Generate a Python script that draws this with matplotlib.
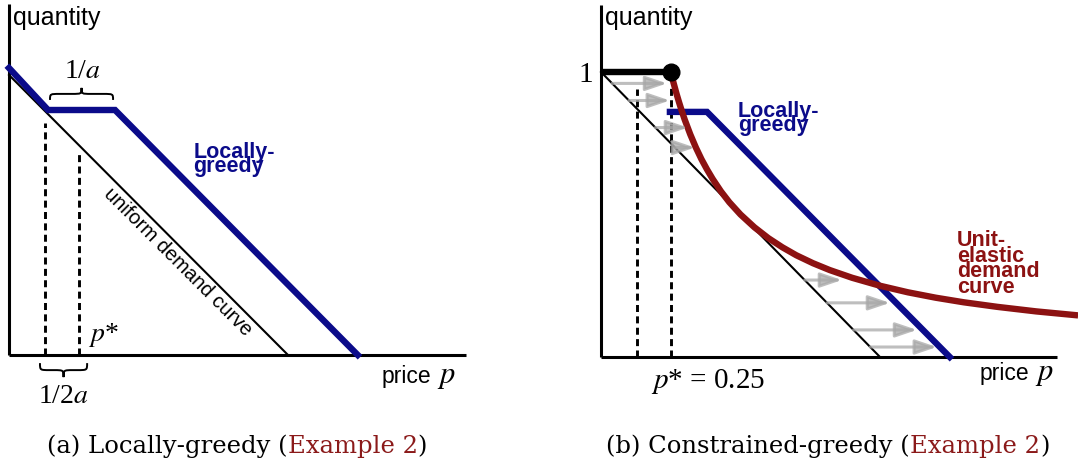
import matplotlib.pyplot as plt
from matplotlib.path import Path
from matplotlib.patches import PathPatch

plt.rcParams['mathtext.fontset'] = 'stix'

# (a) locally-greedy
uniform_p = [0.0, 1.0]
uniform_q = [1.0, 0.0]
greedy_a_p = [0.0, 0.14, 0.38, 1.25]
greedy_a_q = [1.025, 0.875, 0.875, 0.0]
dash_a_p = [0.13, 0.25]
dash_a_top = [0.83, 0.72]

# (b) constrained-greedy
greedy_b_p = [0.247, 0.38, 1.25]
greedy_b_q = [0.86, 0.86, 0.0]
elastic_p = [0.25, 0.26, 0.27, 0.28, 0.29, 0.30, 0.32, 0.34, 0.36, 0.38,
             0.40, 0.43, 0.46, 0.50, 0.55, 0.60, 0.65, 0.70, 0.76, 0.82,
             0.90, 1.00, 1.10, 1.20, 1.30, 1.42, 1.56, 1.71]
elastic_q = [1.000, 0.962, 0.926, 0.893, 0.862, 0.833, 0.781, 0.735, 0.694, 0.658,
             0.625, 0.581, 0.543, 0.500, 0.455, 0.417, 0.385, 0.357, 0.329, 0.305,
             0.278, 0.250, 0.227, 0.208, 0.192, 0.176, 0.160, 0.146]
dash_b_p = [0.13, 0.25]
dash_b_top = [0.94, 0.95]
arrow_q = [0.96, 0.90, 0.805, 0.735, 0.27, 0.19, 0.095, 0.035]
arrow_start_p = [0.04, 0.10, 0.195, 0.265, 0.73, 0.81, 0.905, 0.965]
arrow_end_p = [0.237, 0.247, 0.312, 0.337, 0.864, 1.036, 1.133, 1.204]

BLUE = '#0b0b8a'
RED = '#8c1212'
SANS = 'Liberation Sans'
SERIF = 'Liberation Serif'

fig = plt.figure(figsize=(10.78, 4.68), dpi=100)
axA = fig.add_axes([0, 0, 0.5, 1])
axB = fig.add_axes([0.5, 0, 0.5, 1])
# pixel-matched limits: 279 px per price unit
axA.set_xlim(-9 / 279, 530 / 279)
axA.set_ylim(-113 / 280, 355 / 280)
axB.set_xlim(-62 / 279, 477 / 279)
axB.set_ylim(-111 / 285, 357 / 285)
for ax in (axA, axB):
    ax.axis('off')


def brace(ax, x0, x1, y, h):
    xm = (x0 + x1) / 2
    r = 0.035
    ym = y + h / 2
    verts = [(x0, y), (x0, ym), (x0, ym), (x0 + r, ym),
             (xm - r, ym),
             (xm, ym), (xm, ym), (xm, y + h),
             (xm, ym), (xm, ym), (xm + r, ym),
             (x1 - r, ym),
             (x1, ym), (x1, ym), (x1, y)]
    C, L = Path.CURVE4, Path.LINETO
    codes = [Path.MOVETO, C, C, C, L, C, C, C, C, C, C, L, C, C, C]
    ax.add_patch(PathPatch(Path(verts, codes), fill=False, lw=1.4, color='black'))


dash = dict(color='black', lw=2.1, ls=(0, (2.4, 1.5)))

# ---- panel (a)
axA.plot([0, 0], [0, 1.255], color='black', lw=2.2, solid_capstyle='butt')
axA.plot([0, 1.638], [0, 0], color='black', lw=2.2, solid_capstyle='butt')
axA.plot(uniform_p, uniform_q, color='black', lw=1.5)
axA.plot(greedy_a_p, greedy_a_q, color=BLUE, lw=4.6, solid_joinstyle='miter')
for p, top in zip(dash_a_p, dash_a_top):
    axA.plot([p, p], [0, top], **dash)
brace(axA, 0.147, 0.373, 0.911, 0.043)
brace(axA, 0.111, 0.280, -0.029, -0.05)

axA.text(0.014, 1.179, 'quantity', family=SANS, fontsize=18, va='baseline')
axA.text(0.262, 0.99, r'1/$a$', family=SERIF, fontsize=20, ha='center', va='baseline')
axA.text(0.194, -0.171, r'1/2$a$', family=SERIF, fontsize=20, ha='center', va='baseline')
axA.text(0.283, 0.05, r'$p$*', family=SERIF, fontsize=20, va='baseline')
# va='baseline' on multi-line text anchors the last line
axA.text(0.66, 0.654, 'Locally-\ngreedy', family=SANS, weight='bold', fontsize=15.5,
         color=BLUE, va='baseline', linespacing=0.56)
axA.text(0.606, 0.332, 'uniform demand curve', family=SANS, fontsize=14.5,
         rotation=-45, rotation_mode='anchor', ha='center', va='center')
axA.text(1.337, -0.1, 'price', family=SANS, fontsize=16.5, va='baseline')
axA.text(1.534, -0.1, r'$p$', fontsize=22, va='baseline')

# ---- panel (b)
axB.plot([0, 0], [0, 1.235], color='black', lw=2.2, solid_capstyle='butt')
axB.plot([0, 1.634], [0, 0], color='black', lw=2.2, solid_capstyle='butt')
axB.plot(uniform_p, uniform_q, color='black', lw=1.5)
for p, top in zip(dash_b_p, dash_b_top):
    axB.plot([p, p], [0, top], **dash)
for q, p0, p1 in zip(arrow_q, arrow_start_p, arrow_end_p):
    axB.annotate('', xy=(p1, q), xytext=(p0, q),
                 arrowprops=dict(arrowstyle='-|>,head_length=0.65,head_width=0.22',
                                 color='#a8a8a8', alpha=0.75, lw=2.2,
                                 mutation_scale=20, shrinkA=0, shrinkB=0))
axB.plot(greedy_b_p, greedy_b_q, color=BLUE, lw=4.6, solid_joinstyle='miter')
axB.plot(elastic_p, elastic_q, color=RED, lw=4.6, solid_capstyle='butt')
axB.plot([0, 0.25], [1, 1], color='black', lw=4.6, solid_capstyle='butt')
axB.plot([0.25], [1], 'o', color='black', markersize=12)

axB.text(0.014, 1.165, 'quantity', family=SANS, fontsize=18, va='baseline')
axB.text(-0.029, 0.99, '1', family=SERIF, fontsize=21, ha='right', va='center')
axB.text(0.491, 0.793, 'Locally-\ngreedy', family=SANS, weight='bold', fontsize=15.5,
         color=BLUE, va='baseline', linespacing=0.56)
axB.text(1.276, 0.225, 'Unit-\nelastic\ndemand\ncurve', family=SANS, weight='bold',
         fontsize=15.5, color=RED, va='baseline', linespacing=0.66)
axB.text(0.179, -0.109, r'$p$* = 0.25', family=SERIF, fontsize=21, va='baseline')
axB.text(1.358, -0.081, 'price', family=SANS, fontsize=16.5, va='baseline')
axB.text(1.556, -0.081, r'$p$', fontsize=22, va='baseline')


# ---- captions
def caption(xc, y_px, parts, size=17.5):
    texts = [fig.text(0, 1 - y_px / 468, s, color=c, fontsize=size,
                      family='DejaVu Serif', va='baseline') for s, c in parts]
    r = fig.canvas.get_renderer()
    widths = [t.get_window_extent(r).width for t in texts]
    x = xc - sum(widths) / 2
    for t, w in zip(texts, widths):
        t.set_x(x / 1078)
        x += w


caption(237, 453, [('(a) Locally-greedy (', 'black'), ('Example 2', '#8b1a1a'), (')', 'black')])
caption(828, 453, [('(b) Constrained-greedy (', 'black'), ('Example 2', '#8b1a1a'), (')', 'black')])

fig.savefig('out.png', dpi=100)
